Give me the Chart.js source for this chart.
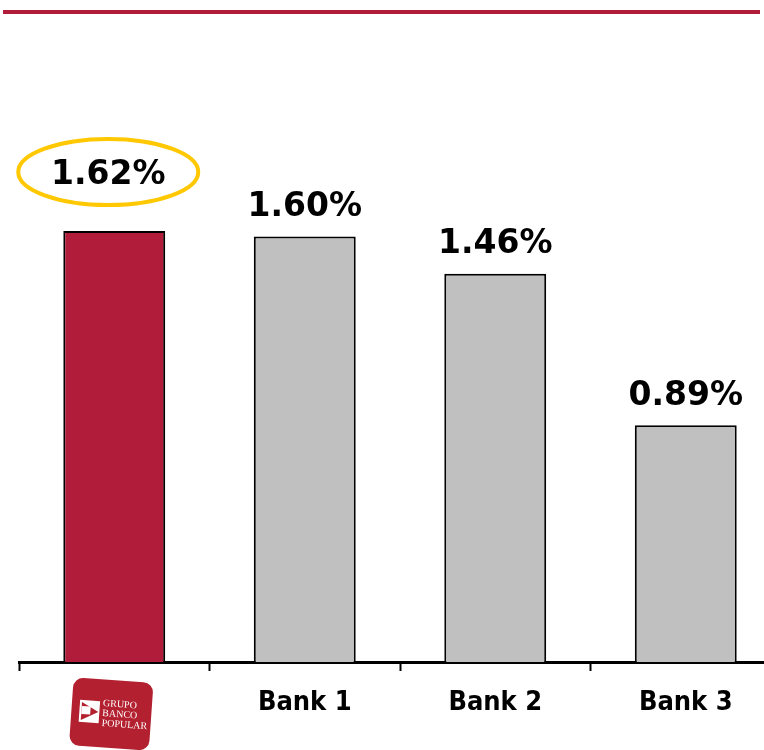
<!DOCTYPE html>
<html>
<head>
<meta charset="utf-8">
<script src="https://cdn.jsdelivr.net/npm/chart.js@4"></script>
<style>
  html, body { margin: 0; padding: 0; background: #fff; overflow: hidden; }
  #wrap { width: 800px; height: 750px; position: relative; }
</style>
</head>
<body>
<div id="wrap"><canvas id="nplChart"></canvas></div>
<script>
// Ratios per bank, first bar is Popular (drawn with its logo instead of a text label)
const categories = ["", "Bank 1", "Bank 2", "Bank 3"];
const values = [1.62, 1.60, 1.46, 0.89];
const highlightIndex = 0;
const logoLines = ["GRUPO", "BANCO", "POPULAR"];

const RED = "#b01c3a";
const GREY = "#c0c0c0";

// Value labels above the bars, the highlighted one gets a yellow ring
const valueLabels = {
  id: "valueLabels",
  afterDatasetsDraw(chart) {
    const ctx = chart.ctx;
    const meta = chart.getDatasetMeta(0);
    ctx.save();
    ctx.fillStyle = "#000";
    ctx.textAlign = "center";
    ctx.textBaseline = "middle";
    ctx.font = "bold 33px 'DejaVu Sans', sans-serif";
    meta.data.forEach((bar, i) => {
      const text = values[i].toFixed(2) + "%";
      if (i === highlightIndex) {
        const cx = bar.x - 6;
        const cy = bar.y - 59;
        ctx.fillText(text, cx, cy + 3);
        ctx.beginPath();
        ctx.ellipse(cx, cy, 90, 33, 0, 0, Math.PI * 2);
        ctx.lineWidth = 4;
        ctx.strokeStyle = "#ffc800";
        ctx.stroke();
      } else {
        ctx.fillText(text, bar.x, bar.y - 29);
      }
    });
    ctx.restore();
  },
};

// Top rule and the bank logo under the first category
const decorations = {
  id: "decorations",
  afterDraw(chart) {
    const ctx = chart.ctx;
    ctx.save();
    ctx.fillStyle = RED;
    ctx.fillRect(3, 10, 757, 4);

    const x = chart.scales.x.getPixelForValue(highlightIndex) - 3;
    const y = 714;
    ctx.translate(x, y);
    ctx.rotate((4 * Math.PI) / 180);
    ctx.fillStyle = "#b3202f";
    ctx.beginPath();
    ctx.roundRect(-40, -34, 80, 68, 10);
    ctx.fill();

    // play-arrow mark
    ctx.fillStyle = "#fff";
    ctx.fillRect(-32, -12, 20, 22);
    ctx.fillStyle = "#b3202f";
    ctx.beginPath();
    ctx.moveTo(-30, -10);
    ctx.lineTo(-13, -1);
    ctx.lineTo(-30, 8);
    ctx.closePath();
    ctx.fill();
    ctx.fillStyle = "#fff";
    ctx.fillRect(-30, -6, 9, 8);

    ctx.font = "10px 'Liberation Serif', serif";
    ctx.textAlign = "left";
    ctx.textBaseline = "middle";
    logoLines.forEach((t, i) => ctx.fillText(t, -9, -10 + i * 10));
    ctx.restore();
  },
};

new Chart(document.getElementById("nplChart"), {
  type: "bar",
  data: {
    labels: categories,
    datasets: [
      {
        data: values,
        backgroundColor: values.map((_, i) => (i === highlightIndex ? RED : GREY)),
        borderColor: "#000",
        borderWidth: 2,
        borderSkipped: "bottom",
        categoryPercentage: 1,
        barPercentage: 0.535,
      },
    ],
  },
  options: {
    responsive: true,
    maintainAspectRatio: false,
    animation: false,
    layout: { padding: { left: 19, right: 19, top: 130, bottom: 0 } },
    plugins: { legend: { display: false }, tooltip: { enabled: false } },
    scales: {
      y: { display: false, min: 0, max: 2.0 },
      x: {
        afterFit(scale) {
          scale.height = 88;
        },
        border: { display: true, color: "#000", width: 3 },
        grid: {
          offset: true,
          drawOnChartArea: false,
          drawTicks: true,
          tickLength: 9,
          tickWidth: 2,
          tickColor: "#000",
        },
        ticks: {
          padding: 16,
          color: "#000",
          font: { family: "'DejaVu Sans Condensed', 'DejaVu Sans', sans-serif", size: 27, weight: "bold" },
        },
      },
    },
  },
  plugins: [valueLabels, decorations],
});
</script>
</body>
</html>
